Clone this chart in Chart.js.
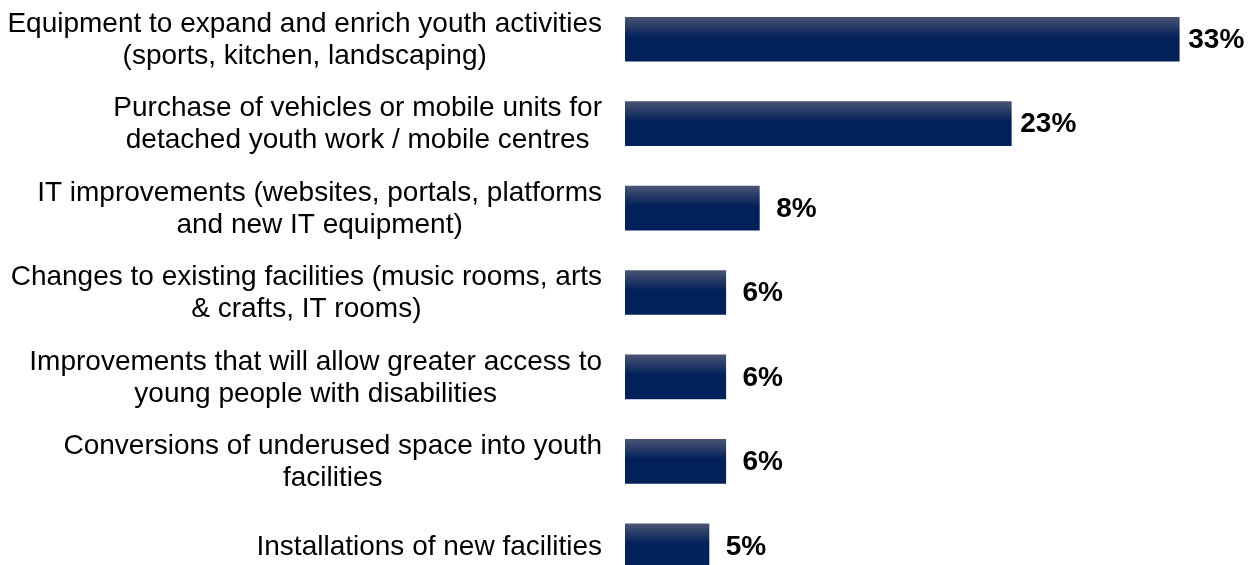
<!DOCTYPE html>
<html>
<head>
<meta charset="utf-8">
<script src="https://cdn.jsdelivr.net/npm/chart.js@4"></script>
<style>
  html, body { margin: 0; padding: 0; background: #ffffff; overflow: hidden; }
  #wrap { position: absolute; left: 0; top: -3px; width: 1254px; height: 591px; }
</style>
</head>
<body>
<div id="wrap"><canvas id="myChart"></canvas></div>
<script>
// categories (each entry is a list of text lines)
const categories = [
  ['Equipment to expand and enrich youth activities', '(sports, kitchen, landscaping)'],
  ['Purchase of vehicles or mobile units for', 'detached youth work / mobile centres'],
  ['IT improvements (websites, portals, platforms', 'and new IT equipment)'],
  ['Changes to existing facilities (music rooms, arts', '& crafts, IT rooms)'],
  ['Improvements that will allow greater access to', 'young people with disabilities'],
  ['Conversions of underused space into youth', 'facilities'],
  ['Installations of new facilities']
];
// share of projects, percent
const shares = [33, 23, 8, 6, 6, 6, 5];

const labelFont = '28px "Liberation Sans", Arial, sans-serif';
const valueFont = 'bold 28px "Liberation Sans", Arial, sans-serif';
const barThickness = 44;

// navy bar with a lighter band fading in from the top edge
function barFill(context) {
  const chart = context.chart;
  const yScale = chart.scales.y;
  if (!yScale || context.dataIndex === undefined) return '#02215a';
  const yc = yScale.getPixelForValue(context.dataIndex);
  if (!Number.isFinite(yc)) return '#02215a';
  const top = yc - barThickness / 2;
  const g = chart.ctx.createLinearGradient(0, top, 0, top + barThickness);
  g.addColorStop(0, '#4a5474');
  g.addColorStop(0.45, '#02215a');
  g.addColorStop(1, '#02215a');
  return g;
}

// category text: block right aligned next to the bars, lines centred inside the block
const categoryLabels = {
  id: 'categoryLabels',
  afterDraw(chart) {
    const ctx = chart.ctx;
    const yScale = chart.scales.y;
    const right = 602;
    const lineHeight = 32;
    ctx.save();
    ctx.font = labelFont;
    ctx.fillStyle = '#000000';
    ctx.textAlign = 'center';
    ctx.textBaseline = 'middle';
    categories.forEach((lines, i) => {
      const yc = yScale.getPixelForValue(i);
      const blockW = Math.max(...lines.map(l => ctx.measureText(l).width));
      const cx = right - blockW / 2;
      const y0 = yc - (lines.length - 1) * lineHeight / 2;
      lines.forEach((l, j) => ctx.fillText(l, cx, y0 + j * lineHeight + 1));
    });
    ctx.restore();
  }
};

// percentage printed past the end of each bar
const valueLabels = {
  id: 'valueLabels',
  afterDatasetsDraw(chart) {
    const ctx = chart.ctx;
    const meta = chart.getDatasetMeta(0);
    ctx.save();
    ctx.font = valueFont;
    ctx.fillStyle = '#000000';
    ctx.textAlign = 'center';
    ctx.textBaseline = 'middle';
    meta.data.forEach((bar, i) => {
      ctx.fillText(shares[i] + '%', bar.x + 37, bar.y + 1);
    });
    ctx.restore();
  }
};

const data = {
  labels: categories,
  datasets: [{
    data: shares,
    backgroundColor: barFill,
    borderWidth: 0,
    barThickness: barThickness
  }]
};

const config = {
  type: 'bar',
  data: data,
  options: {
    indexAxis: 'y',
    responsive: true,
    maintainAspectRatio: false,
    animation: false,
    layout: { padding: { left: 625, right: 0, top: 0, bottom: 0 } },
    plugins: {
      legend: { display: false },
      tooltip: { enabled: false }
    },
    scales: {
      x: { display: false, min: 0, max: 37.45 },
      y: { display: false }
    }
  },
  plugins: [categoryLabels, valueLabels]
};

const ctx = document.getElementById('myChart');
const myChart = new Chart(ctx, config);
</script>
</body>
</html>
